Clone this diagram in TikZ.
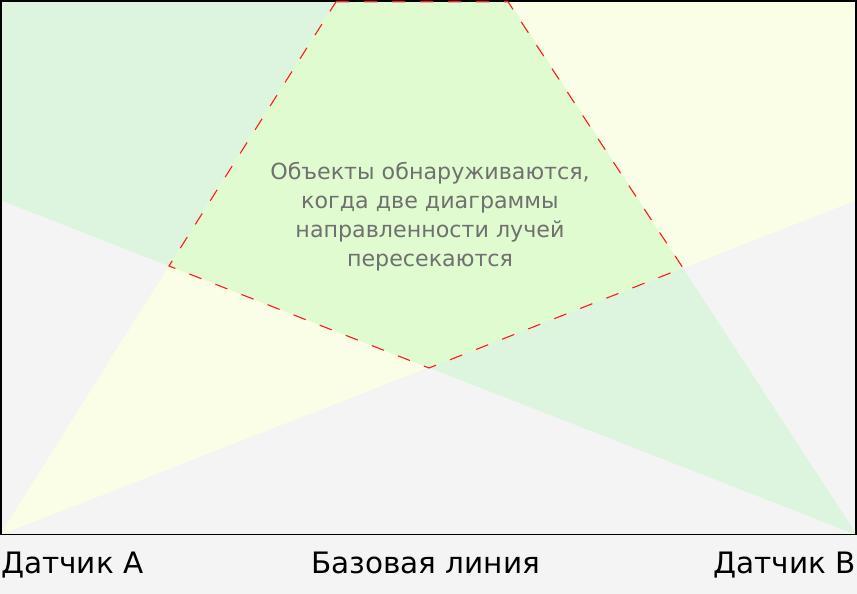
\documentclass[tikz,border=0pt]{standalone}
\usepackage{fontspec}
\setmainfont{DejaVu Sans}
\definecolor{bgGray}{HTML}{F4F4F4}
\definecolor{beamYellow}{HTML}{FAFEE6}
\definecolor{beamGreen}{HTML}{DDF4DE}
\definecolor{zoneGreen}{HTML}{E0FBD0}
\definecolor{zoneRed}{HTML}{FF1A1A}
\definecolor{noteGray}{HTML}{707070}
\usetikzlibrary{positioning}
\tikzset{
  beamA/.style={fill=beamYellow},
  beamB/.style={fill=beamGreen},
  zone/.style={fill=zoneGreen},
  zoneedge/.style={draw=zoneRed,line width=1.1pt,dash pattern=on 13pt off 15pt},
  frame/.style={draw=black,line width=1.6pt},
  notelabel/.style={font=\fontsize{22.2}{29}\selectfont,text=noteGray,align=center},
  sensorlabel/.style={font=\fontsize{29.5}{34}\selectfont,text=black,inner sep=0pt},
}

\begin{document}
\begin{tikzpicture}[x=1pt,y=-1pt]
  \useasboundingbox[fill=bgGray] (0,0) rectangle (857,594);
  % sensors and beam edges
  \coordinate (sensA) at (0,535);
  \coordinate (sensB) at (857,535);
  \coordinate (topA) at (336,1.8);
  \coordinate (topB) at (508,1.8);
  \coordinate (farA) at (857,200);
  \coordinate (farB) at (0,200);
  \coordinate (cutL) at (169,266);
  \coordinate (cutR) at (683,268);
  \coordinate (cutD) at (429,368);
  \fill[beamB] (sensB) -- (farB) -- (0,0) -- (508,0) -- cycle;
  \fill[beamA] (sensA) -- (336,0) -- (857,0) -- (farA) -- cycle;
  \fill[zone] (336,0) -- (508,0) -- (cutR) -- (cutD) -- (cutL) -- cycle;
  \draw[frame] (0.8,0.8) rectangle (856.2,534.5);
  \draw[zoneedge] (topA) -- (topB) -- (cutR) -- (cutD) -- (cutL) -- cycle;
  \node[notelabel] (note) at (430,217) {Объекты обнаруживаются,\\когда две диаграммы\\направленности лучей\\пересекаются};
  \node[sensorlabel,anchor=base west] (labA) at (1,573) {Датчик A};
  \node[sensorlabel,anchor=base] (labBase) at (425.5,573) {Базовая линия};
  \node[sensorlabel,anchor=base east] (labB) at (856,573) {Датчик B};
\end{tikzpicture}
\end{document}
